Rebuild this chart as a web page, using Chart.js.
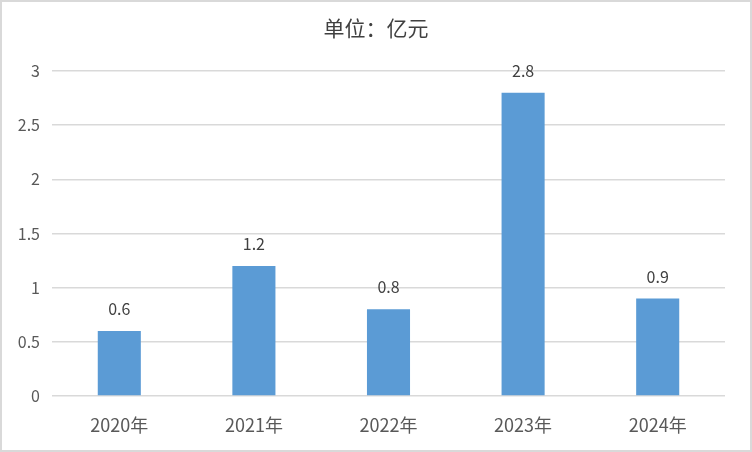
<!DOCTYPE html>
<html>
<head>
<meta charset="utf-8">
<script src="https://cdn.jsdelivr.net/npm/chart.js@4"></script>
<style>
  html, body { margin: 0; padding: 0; background: #fff; }
  #wrap { width: 748px; height: 448px; border: 2px solid #d9d9d9; background: #fff; }
</style>
</head>
<body>
<div id="wrap"><canvas id="chart" width="748" height="448"></canvas></div>
<script>
// chart data
const years = ['2020年', '2021年', '2022年', '2023年', '2024年'];
const values = [0.6, 1.2, 0.8, 2.8, 0.9];
const yTicks = [0, 0.5, 1, 1.5, 2, 2.5, 3];
const titleText = '单位：亿元';

const FONT = '"Noto Sans CJK SC", "Microsoft YaHei", sans-serif';

// value labels above bars + title centred on the whole canvas
const barLabels = {
  id: 'barLabels',
  afterDatasetsDraw(chart) {
    const ctx = chart.ctx;
    const meta = chart.getDatasetMeta(0);
    ctx.save();
    ctx.textAlign = 'center';
    ctx.textBaseline = 'middle';
    ctx.font = '16px ' + FONT;
    ctx.fillStyle = '#404040';
    meta.data.forEach(function (bar, i) {
      ctx.fillText(String(values[i]), bar.x, bar.y - 22);
    });
    ctx.font = '21px ' + FONT;
    ctx.fillText(titleText, chart.width / 2, 26);
    ctx.restore();
  }
};

document.addEventListener('DOMContentLoaded', function () {
  const ctx = document.getElementById('chart').getContext('2d');
  new Chart(ctx, {
    type: 'bar',
    data: {
      labels: years,
      datasets: [
        {
          data: values,
          backgroundColor: '#5B9BD5',
          barPercentage: 0.64,
          categoryPercentage: 0.5,
        },
      ],
    },
    options: {
      responsive: false,
      animation: false,
      layout: { padding: { left: 0, right: 25, top: 69, bottom: 0 } },
      plugins: {
        legend: { display: false },
        tooltip: { enabled: false },
        title: { display: false },
      },
      scales: {
        x: {
          grid: { display: false },
          border: { display: false },
          ticks: {
            color: '#595959',
            font: { family: FONT, size: 18 },
            padding: 10,
          },
          afterFit(scale) { scale.height = 54; },
        },
        y: {
          min: 0,
          max: 3,
          afterBuildTicks(scale) {
            scale.ticks = yTicks.map(function (v) { return { value: v }; });
          },
          grid: { color: '#d9d9d9', lineWidth: 1.5, drawTicks: false },
          border: { display: false },
          ticks: {
            color: '#595959',
            font: { family: FONT, size: 16 },
            padding: 12,
            callback: function (v) { return String(v); },
          },
          afterFit(scale) { scale.width = 50; },
        },
      },
    },
    plugins: [barLabels],
  });
});
</script>
</body>
</html>
